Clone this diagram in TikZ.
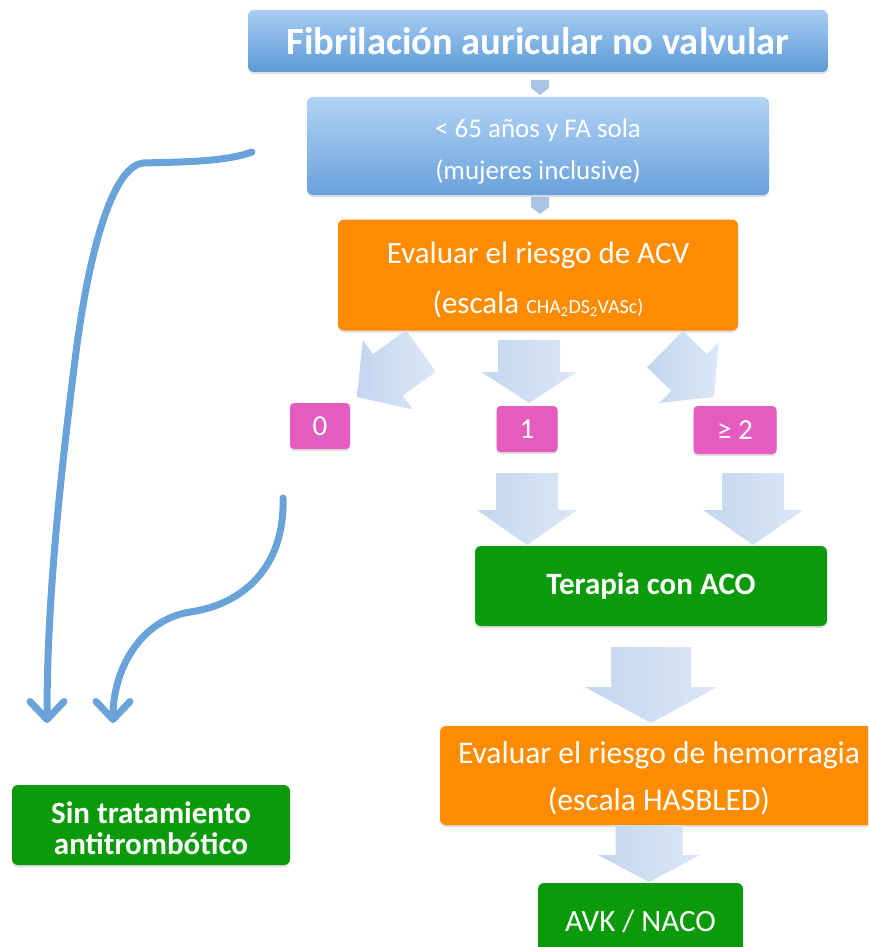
\documentclass[tikz,border=0pt]{standalone}
\usepackage{fontspec}
\setmainfont{Carlito}
\usetikzlibrary{calc,shadows,arrows.meta}
\definecolor{bluetop}{HTML}{A9CDF3}
\definecolor{bluebot}{HTML}{5B9AD6}
\definecolor{bluetopb}{HTML}{B2D3F6}
\definecolor{bluebotb}{HTML}{69A2DC}
\definecolor{orangec}{HTML}{FF8C00}
\definecolor{greenc}{HTML}{0A9A0A}
\definecolor{pinkc}{HTML}{E55CC0}
\definecolor{arrowc}{HTML}{6AA3D9}
\definecolor{blkL}{HTML}{C3D6EF}
\definecolor{blkR}{HTML}{DCE7F6}
\definecolor{nubc}{HTML}{A9C4E4}
\newcommand\blkarr[6]{%
  \coordinate (#6m) at ($(#2)!#5!(#1)$);
  \path[blockfill] ($(#1)!#3!90:(#2)$) -- ($(#6m)!#3!90:(#2)$) -- ($(#6m)!#4!90:(#2)$) -- (#2)
     -- ($(#6m)!#4!-90:(#2)$) -- ($(#6m)!#3!-90:(#2)$) -- ($(#1)!#3!-90:(#2)$) -- cycle;}
\begin{document}
\begin{tikzpicture}[x=1pt,y=-1pt,
  box/.style={rectangle, rounded corners=6pt, inner sep=0pt, align=center, text=white,
    drop shadow={opacity=0.25, shadow xshift=0pt, shadow yshift=-2pt}},
  txt/.style={inner sep=0pt, align=center, text=white},
  bluebox/.style={top color=bluetop, bottom color=bluebot},
  blueboxb/.style={top color=bluetopb, bottom color=bluebotb},
  blockfill/.style={left color=blkL, right color=blkR},
  curvearrow/.style={draw=arrowc, line width=7pt, line cap=round, line join=round,
    -{Straight Barb[round, length=18pt, width=34pt]}}]
\useasboundingbox (0,0) rectangle (868,947);
\clip (0,0) rectangle (868,947);

% small tabs
\fill[nubc] (531,80) -- (549,80) -- (549,88) -- (540,95) -- (531,88) -- cycle;
\fill[nubc] (531,197) -- (549,197) -- (549,207) -- (540,214) -- (531,207) -- cycle;

% boxes
\node[box, bluebox, minimum width=580pt, minimum height=62pt,
  font=\bfseries\fontsize{38.5}{40}\selectfont] (title) at (538,41) {Fibrilación auricular no valvular};

\node[box, blueboxb, minimum width=462pt, minimum height=98pt] (age) at (538,146) {};
\node[txt, font=\fontsize{27}{42}\selectfont] (agetxt) at ($(age.center)+(0,5)$)
  {< 65 años y FA sola\\(mujeres inclusive)};

\node[box, fill=orangec, minimum width=400pt, minimum height=111pt] (acv) at (538,275) {};
\node[txt, font=\fontsize{31}{50}\selectfont] (acvtxt) at ($(acv.center)+(0,4.5)$)
  {Evaluar el riesgo de ACV\\(escala {\fontsize{20}{20}\selectfont CHA\textsubscript{2}DS\textsubscript{2}VASc)}};

\node[box, fill=pinkc, rounded corners=4pt, minimum width=60pt, minimum height=46pt,
  font=\fontsize{29}{30}\selectfont] (s0) at (320,426) {0};
\node[box, fill=pinkc, rounded corners=4pt, minimum width=61pt, minimum height=46pt,
  font=\fontsize{29}{30}\selectfont] (s1) at (527,429) {1};
\node[box, fill=pinkc, rounded corners=4pt, minimum width=83pt, minimum height=48pt,
  font=\fontsize{29}{30}\selectfont] (s2) at (735,430) {≥ 2};

\node[box, fill=greenc, minimum width=352pt, minimum height=80pt,
  font=\bfseries\fontsize{31}{32}\selectfont] (aco) at (651,586) {Terapia con ACO};

\node[box, fill=orangec, minimum width=438pt, minimum height=99pt] (hem) at (659,775.5) {};
\node[txt, font=\fontsize{31.5}{47}\selectfont] (hemtxt) at ($(hem.center)+(0,3)$)
  {Evaluar el riesgo de hemorragia\\(escala HASBLED)};

\node[box, fill=greenc, minimum width=205pt, minimum height=76pt,
  font=\fontsize{31}{33}\selectfont] (avk) at (640.5,921) {AVK / NACO};

\node[box, fill=greenc, minimum width=278pt, minimum height=80pt] (sin) at (151,825) {};
\node[txt, font=\bfseries\fontsize{31}{31}\selectfont] (sintxt) at ($(sin.center)+(0,3)$)
  {Sin tratamiento\\antitrombótico};

% block arrows
\coordinate (la) at (421,351); \coordinate (lb) at (357,397);
\coordinate (ma) at (529,340); \coordinate (mb) at (529,403);
\coordinate (ra) at (665,349); \coordinate (rb) at (714,397);
\coordinate (aa) at (527,473); \coordinate (ab) at (527,545);
\coordinate (ba) at (753,473); \coordinate (bb) at (753,545);
\coordinate (ca) at (651,647); \coordinate (cb) at (651,723);
\coordinate (da) at (649,825); \coordinate (db) at (649,882);
\blkarr{la}{lb}{25.5pt}{43pt}{38pt}{L}
\blkarr{ma}{mb}{31pt}{47.5pt}{31pt}{M}
\blkarr{ra}{rb}{25.5pt}{42.5pt}{35pt}{R}
\blkarr{aa}{ab}{31pt}{50pt}{35pt}{A}
\blkarr{ba}{bb}{31pt}{50pt}{35pt}{B}
\blkarr{ca}{cb}{40pt}{66pt}{36pt}{C}
\blkarr{da}{db}{33.5pt}{51pt}{27pt}{D}

% curved arrows
\coordinate (c1s) at (252,152); \coordinate (c1e) at (47,723);
\coordinate (c2s) at (283,498); \coordinate (c2e) at (113,723);
\draw[curvearrow] (c1s) .. controls (225,162) and (180,162) .. (143,163)
  .. controls (115,166) and (90,240) .. (75,360)
  .. controls (60,480) and (47,600) .. (c1e);
\draw[curvearrow] (c2s) .. controls (285,570) and (240,605) .. (190,612)
  .. controls (140,620) and (113,670) .. (c2e);
\end{tikzpicture}
\end{document}
